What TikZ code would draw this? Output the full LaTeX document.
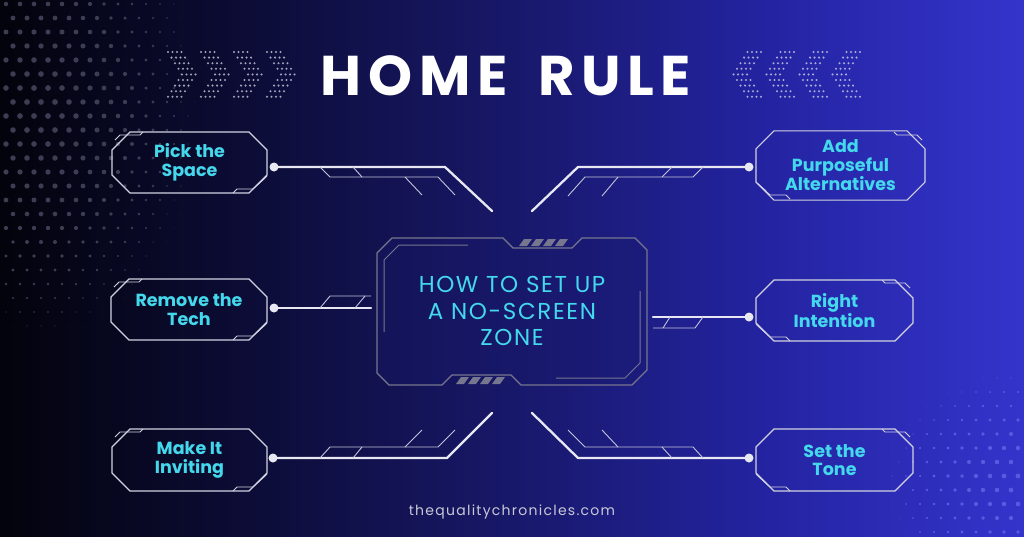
\documentclass[tikz,border=0pt]{standalone}
\usepackage{fontspec}
\setmainfont{Poppins}
\usetikzlibrary{shapes.misc,calc}
\definecolor{bgA}{HTML}{03030C}
\definecolor{bgB}{HTML}{0C0C36}
\definecolor{bgC}{HTML}{18186A}
\definecolor{bgD}{HTML}{2323A0}
\definecolor{bgE}{HTML}{3434CC}
\definecolor{dotc}{HTML}{3C3C52}
\definecolor{dotb}{HTML}{5A5AE0}
\definecolor{chevc}{HTML}{D8D8E8}
\definecolor{linec}{HTML}{E8E8F2}
\definecolor{thinc}{HTML}{C4C4DA}
\definecolor{boxc}{HTML}{D2D2E2}
\definecolor{cyanc}{HTML}{44D8EC}
\definecolor{ctrc}{HTML}{76768E}
\definecolor{wmc}{HTML}{C8C8D8}
\pgfdeclarehorizontalshading{bgshade}{100bp}{color(0bp)=(bgA); color(25bp)=(bgA); color(37bp)=(bgB); color(50bp)=(bgC); color(62bp)=(bgD); color(75bp)=(bgE); color(100bp)=(bgE)}
\tikzset{
  boxnode/.style={chamfered rectangle, chamfered rectangle sep=9pt, draw=boxc, line width=1.1pt,
    inner sep=0pt, align=center, text=cyanc, font=\fontsize{17.5}{18.5}\selectfont\bfseries},
  thickline/.style={draw=linec, line width=2.3pt, line cap=round, line join=round},
  thinline/.style={draw=thinc, line width=0.9pt},
  accent/.style={draw=boxc, line width=0.9pt},
  dotnode/.style={circle, fill=linec, inner sep=0pt, minimum size=9pt},
  ctrline/.style={draw=ctrc, line width=1.3pt, line join=round},
}
\newcommand\boxaccents[5]{% cx cy w h side
  \pgfmathsetmacro\bxL{#1-#5*(#3/2)}
  \pgfmathsetmacro\bxR{#1+#5*(#3/2)}
  \pgfmathsetmacro\byT{#2-#4/2}
  \pgfmathsetmacro\byB{#2+#4/2}
  \draw[accent] (\bxL+#5*3,\byT+8) -- (\bxL+#5*8,\byT+3) -- (\bxL+#5*28,\byT+3) -- (\bxL+#5*31,\byT);
  \draw[accent] (\bxR-#5*34,\byB) -- (\bxR-#5*30,\byB-4) -- (\bxR-#5*14,\byB-4) -- (\bxR,\byB-17);
  \draw[accent] (\bxR-#5*10,\byB-8) -- (\bxR-#5*2,\byB-15);
}
\begin{document}
\begin{tikzpicture}[x=1pt,y=-1pt]
\useasboundingbox (0,0) rectangle (1024,536);
\shade[shading=bgshade] (0,0) rectangle (1024,536);
% halftone top-left
\foreach \i in {0,...,14}{\foreach \j in {0,...,24}{
  \pgfmathsetmacro\xx{6+14*\i+7*mod(\j,2)}
  \pgfmathsetmacro\yy{4+14*\j}
  \pgfmathsetmacro\rr{2.9*(1-(((\xx-40)/170)^2+((\yy-110)/240)^2))}
  \ifdim\rr pt>0.35pt \fill[dotc] (\xx,\yy) circle[radius=\rr]; \fi
}}
% halftone bottom-right
\foreach \i in {0,...,11}{\foreach \j in {0,...,13}{
  \pgfmathsetmacro\xx{1024-6-14*\i-7*mod(\j,2)}
  \pgfmathsetmacro\yy{536-4-14*\j}
  \pgfmathsetmacro\rr{2.4*(1-(((\xx-1024)/150)^2+((\yy-480)/120)^2))}
  \ifdim\rr pt>0.35pt \fill[dotb] (\xx,\yy) circle[radius=\rr]; \fi
}}
% chevrons
\foreach \k in {0,...,3}{\foreach \r in {0,...,8}{\foreach \c in {0,...,3}{
  \pgfmathsetmacro\xx{168+33*\k+14*(1-abs(\r-4)/4)+4.5*\c}
  \pgfmathsetmacro\yy{52+5.6*\r}
  \fill[chevc, opacity=0.75] (\xx,\yy) circle[radius=1.15];
  \fill[chevc, opacity=0.75] (1028-\xx,\yy) circle[radius=1.15];
}}}
% title
\node[text=white, font=\fontsize{56}{56}\selectfont\bfseries] (title) at (506,76) {\addfontfeature{LetterSpace=12}HOME \kern 12pt RULE};
% center box
\draw[ctrline, fill=bgC, fill opacity=0.35] (377,253) -- (392,238) -- (503,238) -- (513,248) -- (572,248) -- (582,238) -- (635,238) -- (647,250)
  -- (647,370) -- (632,385) -- (521,385) -- (511,375) -- (452,375) -- (442,385) -- (389,385) -- (377,373) -- cycle;
\draw[ctrline, line width=1pt] (384,332) -- (384,260) -- (399,245) -- (468,245);
\draw[ctrline, line width=1pt] (640,291) -- (640,363) -- (625,378) -- (556,378);
\foreach \s in {0,...,3}{
  \fill[ctrc] (519+12*\s,246) -- (524+12*\s,239) -- (532+12*\s,239) -- (527+12*\s,246) -- cycle;
  \fill[ctrc] (1024-519-12*\s,377) -- (1024-524-12*\s,384) -- (1024-532-12*\s,384) -- (1024-527-12*\s,377) -- cycle;
}
\node[text=cyanc, align=center, font=\fontsize{23}{26.5}\selectfont] (ctr) at (512,311) {\addfontfeature{LetterSpace=7}HOW TO SET UP\\\addfontfeature{LetterSpace=7}A NO-SCREEN\\\addfontfeature{LetterSpace=7}ZONE};
% boxes
\node[boxnode, minimum width=155pt, minimum height=61pt] (b1) at (189.5,162.5) {Pick the\\Space};
\boxaccents{189.5}{162.5}{155}{61}{1}
\node[boxnode, minimum width=156pt, minimum height=61pt] (b2) at (189,309.5) {Remove the\\Tech};
\boxaccents{189}{309.5}{156}{61}{1}
\node[boxnode, minimum width=155pt, minimum height=62pt] (b3) at (189.5,460) {Make It\\Inviting};
\boxaccents{189.5}{460}{155}{62}{1}
\node[boxnode, minimum width=169pt, minimum height=67pt] (b4) at (840.5,165.5) {Add\\Purposeful\\Alternatives};
\boxaccents{840.5}{165.5}{169}{67}{-1}
\node[boxnode, minimum width=157pt, minimum height=61pt] (b5) at (834.5,310.5) {Right\\Intention};
\boxaccents{834.5}{310.5}{157}{61}{-1}
\node[boxnode, minimum width=157pt, minimum height=62pt] (b6) at (834.5,460) {Set the\\Tone};
\boxaccents{834.5}{460}{157}{62}{-1}
% connector dots
\node[dotnode] (d1) at (274,167) {};
\node[dotnode] (d2) at (274,308) {};
\node[dotnode] (d3) at (273,458) {};
\node[dotnode] (d4) at (749,167) {};
\node[dotnode] (d5) at (749,317) {};
\node[dotnode] (d6) at (749,458) {};
\coordinate (c1a) at (445,167); \coordinate (c1b) at (492,211);
\coordinate (c2a) at (371,308);
\coordinate (c3a) at (447,458); \coordinate (c3b) at (492,413);
\coordinate (c4a) at (578,167); \coordinate (c4b) at (532,211);
\coordinate (c5a) at (653,317);
\coordinate (c6a) at (578,458); \coordinate (c6b) at (532,413);
\draw[thickline] (d1.center) -- (c1a) -- (c1b);
\draw[thickline] (d2.center) -- (c2a);
\draw[thickline] (d3.center) -- (c3a) -- (c3b);
\draw[thickline] (d4.center) -- (c4a) -- (c4b);
\draw[thickline] (d5.center) -- (c5a);
\draw[thickline] (d6.center) -- (c6a) -- (c6b);
% thin traces
\draw[thinline] (320,167) -- (330,177) -- (438,177) -- (455,195);
\draw[thinline] (353,167) -- (362,177);
\draw[thinline] (405,177) -- (422,195);
\draw[thinline] (703,167) -- (693,177) -- (585,177) -- (568,196);
\draw[thinline] (672,167) -- (662,177);
\draw[thinline] (618,177) -- (602,196);
\draw[thinline] (320,308) -- (330,296) -- (371,296);
\draw[thinline] (355,308) -- (365,296);
\draw[thinline] (653,328) -- (695,328) -- (703,317);
\draw[thinline] (670,317) -- (663,328);
\draw[thinline] (320,458) -- (330,447) -- (438,447) -- (455,430);
\draw[thinline] (353,458) -- (362,447);
\draw[thinline] (405,447) -- (422,430);
\draw[thinline] (703,458) -- (693,447) -- (585,447) -- (568,430);
\draw[thinline] (672,458) -- (662,447);
\draw[thinline] (618,447) -- (602,430);
% watermark
\node[text=wmc, font=\fontsize{14}{14}\selectfont] (wm) at (512,512) {\addfontfeature{LetterSpace=9}thequalitychronicles.com};
\end{tikzpicture}
\end{document}
